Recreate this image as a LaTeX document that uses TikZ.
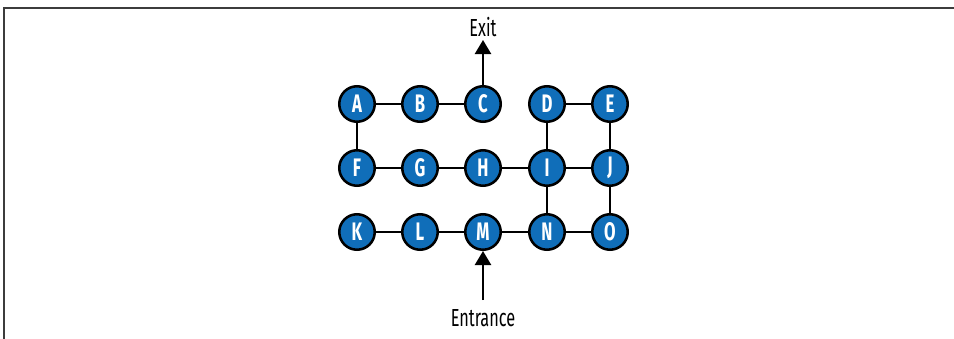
\documentclass[tikz,border=0pt]{standalone}
\usepackage{fontspec}
\setmainfont[FakeStretch=0.66]{Fira Sans}
\usetikzlibrary{arrows.meta}
\definecolor{roomblue}{RGB}{16,110,185}
\definecolor{framegray}{RGB}{60,60,60}
\tikzset{
  room/.style={circle, draw=black, line width=1.9pt, fill=roomblue, minimum size=26.6pt, inner sep=0pt, text=white, font=\fontsize{19}{19}\selectfont\bfseries},
  door/.style={line width=1.7pt},
  sign/.style={-{Triangle[width=12pt,length=10.5pt]}, line width=1.7pt},
  label/.style={inner sep=0.75pt, font=\fontsize{18.5}{19}\selectfont}
}
\begin{document}
\begin{tikzpicture}[x=0.75pt,y=0.75pt,yscale=-1,xscale=1]
        \useasboundingbox (0,0) rectangle (954,339);
        %Frame
        \draw [framegray, line width=1.1pt] (954,8) -- (4,8) -- (4,339) ;

        % Rooms
        \node [room] (A) at (357,104) {A};
        \node [room] (B) at (420,104) {B};
        \node [room] (C) at (483,104) {C};
        \node [room] (D) at (547,104) {D};
        \node [room] (E) at (610,104) {E};
        \node [room] (F) at (357,168) {F};
        \node [room] (G) at (420,168) {G};
        \node [room] (H) at (483,168) {H};
        \node [room] (I) at (547,168) {I};
        \node [room] (J) at (610,168) {J};
        \node [room] (K) at (357,232) {K};
        \node [room] (L) at (420,232) {L};
        \node [room] (M) at (483,232) {M};
        \node [room] (N) at (547,232) {N};
        \node [room] (O) at (610,232) {O};

        % Doors
        \foreach \u/\v in {A/B,B/C,A/F,F/G,G/H,H/I,I/J,D/E,D/I,E/J,I/N,J/O,K/L,L/M,M/N,N/O}
          \draw [door] (\u) -- (\v) ;

        % Text Node
        \node [label] (exit) at (483,27) {Exit};
        % Text Node
        \node [label] (entrance) at (483,318) {Entrance};

        \coordinate (exittip) at (483,40);
        \coordinate (entrytail) at (483,300);
        \draw [sign] (C) -- (exittip) ;
        \draw [sign] (entrytail) -- (M) ;

\end{tikzpicture}
\end{document}
